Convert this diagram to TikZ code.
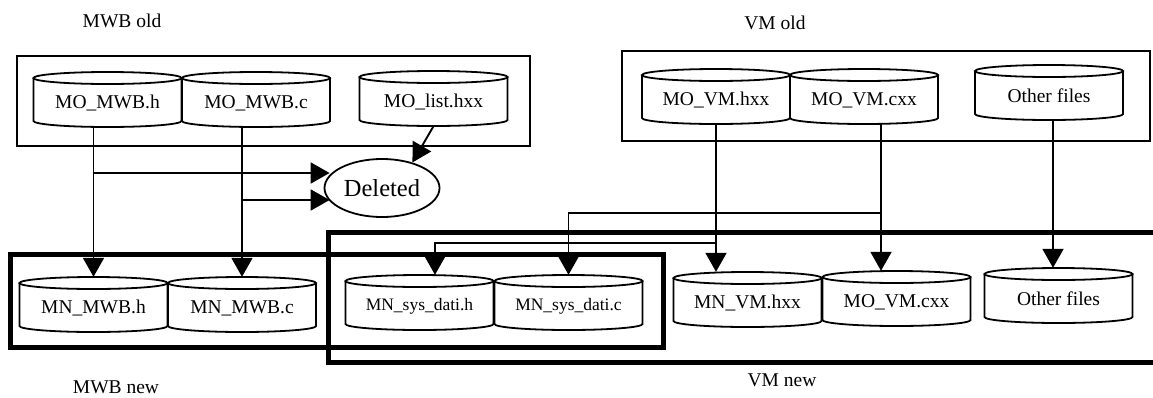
\documentclass[tikz,border=0pt]{standalone}
\usepackage{fontspec}
\setmainfont{Liberation Serif}
\usetikzlibrary{arrows.meta,shapes.geometric,calc}
\newcommand{\cylfont}{\fontsize{19.5}{22}\selectfont}
\newcommand{\smallcylfont}{\fontsize{17.5}{20}\selectfont}
\newcommand{\filedrum}[5][\cylfont]{%
  \draw[drumline] (#3-74,#4+6) -- (#3-74,#4+49)
     arc[start angle=180,end angle=360,x radius=74pt,y radius=6pt] -- (#3+74,#4+6);
  \draw[drumline] (#3,#4+6) ellipse[x radius=74pt,y radius=6pt];
  \node[drumbox] (#2) at (#3,#4+27.5) {};
  \node[drumtext,font=#1] (#2t) at (#3,#4+31) {#5};
}
\tikzset{
  drumline/.style={line width=1.8pt},
  drumbox/.style={rectangle,inner sep=0pt,minimum width=148pt,minimum height=55pt},
  drumtext/.style={inner sep=0pt},
  conn/.style={line width=1.9pt,-{Triangle[length=19pt,width=21pt]}},
  oldbox/.style={line width=2.2pt},
  newbox/.style={line width=5pt},
  grouplabel/.style={font=\fontsize{19.5}{22}\selectfont,inner sep=0pt},
}
\begin{document}
\begin{tikzpicture}[x=1pt,y=-1pt]
\useasboundingbox (0,0) rectangle (1153,397);

% group boxes
\draw[oldbox] (17,56) rectangle (530,146);
\draw[oldbox] (622,51) rectangle (1150,141);
\draw[newbox] (10,254) rectangle (663,347);
\begin{scope}
  \clip (0,0) rectangle (1153,397);
  \draw[newbox] (328,232) rectangle (1180,362);
\end{scope}

% group labels
\node[grouplabel] (lmwbold) at (122,21) {MWB old};
\node[grouplabel] (lvmold) at (775,23) {VM old};
\node[grouplabel] (lmwbnew) at (116,387) {MWB new};
\node[grouplabel] (lvmnew) at (782,380) {VM new};

% old files
\filedrum{moh}{107.5}{72}{MO\_MWB.h}
\filedrum{moc}{256}{72}{MO\_MWB.c}
\filedrum{mol}{433.5}{71}{MO\_list.hxx}
\filedrum{vmh}{716}{69}{MO\_VM.hxx}
\filedrum{vmc}{864}{69}{MO\_VM.cxx}
\filedrum{vmo}{1049}{65}{Other files}

% new files
\filedrum{nmh}{93.5}{277}{MN\_MWB.h}
\filedrum{nmc}{242}{277}{MN\_MWB.c}
\filedrum[\smallcylfont]{nsh}{419.5}{275}{MN\_sys\_dati.h}
\filedrum[\smallcylfont]{nsc}{568.5}{275}{MN\_sys\_dati.c}
\filedrum{nvh}{747.5}{272}{MN\_VM.hxx}
\filedrum{nvc}{896.5}{271}{MO\_VM.cxx}
\filedrum{nvo}{1058.5}{268}{Other files}

% deleted
\node[ellipse,draw,line width=1.8pt,inner sep=0pt,minimum width=115pt,minimum height=58pt,
      font=\fontsize{24.5}{28}\selectfont] (del) at (382,188) {Deleted};

% connectors MWB
\draw[conn] (moh.south -| nmh.north) -- (nmh.north);
\draw[conn] (moc.south -| nmc.north) -- (nmc.north);
\coordinate (j1) at (93.5,173);
\coordinate (j2) at (242,200);
\draw[conn] (j1) -- ($(j1 -| del.west)+(6,0)$);
\draw[conn] (j2) -- ($(j2 -| del.west)+(6,0)$);
\draw[conn] (mol.south) -- (del.40);

% connectors VM
\draw[conn] (vmh.south) -- (vmh.south |- nvh.north);
\coordinate (j3) at (716,243);
\draw[conn] (j3) -| ($(nsh.north)+(15.5,0)$);
\coordinate (c1) at ($(vmc.south)+(17,0)$);
\draw[conn] (c1) -- (c1 |- nvc.north);
\coordinate (j4) at (881,213);
\draw[conn] (j4) -| (nsc.north);
\coordinate (c2) at ($(vmo.south)+(4,0)$);
\draw[conn] (c2) -- (c2 |- nvo.north);
\end{tikzpicture}
\end{document}
